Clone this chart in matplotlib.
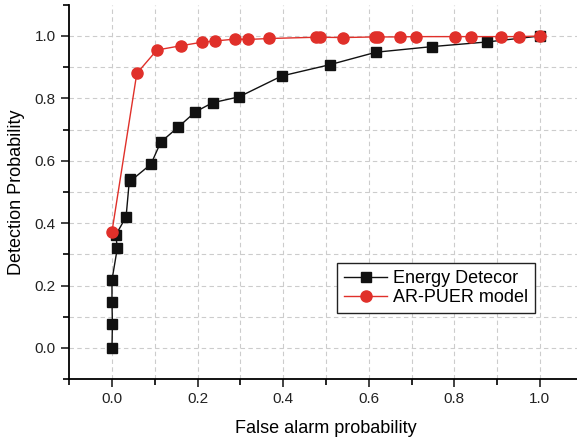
import numpy as np
import matplotlib
matplotlib.use("Agg")
import matplotlib.pyplot as plt
from matplotlib.ticker import MultipleLocator

plt.rcParams['font.family'] = ['Liberation Sans', 'DejaVu Sans']

# ROC 曲线数据 (虚警概率, 检测概率)
ed_pf = [0.0, 0.001, 0.0, 0.0, 0.0125, 0.009, 0.033, 0.041, 0.043, 0.091,
         0.114, 0.154, 0.195, 0.235, 0.297, 0.397, 0.509, 0.617, 0.748,
         0.877, 1.0]
ed_pd = [0.0, 0.077, 0.147, 0.218, 0.32, 0.362, 0.421, 0.543, 0.535, 0.589,
         0.66, 0.707, 0.757, 0.786, 0.805, 0.872, 0.908, 0.948, 0.966,
         0.981, 1.0]

ar_pf = [0.0, 0.058, 0.105, 0.162, 0.21, 0.241, 0.287, 0.319, 0.368, 0.477,
         0.485, 0.54, 0.615, 0.622, 0.674, 0.711, 0.801, 0.84, 0.909,
         0.951, 1.0]
ar_pd = [0.373, 0.88, 0.955, 0.969, 0.98, 0.984, 0.99, 0.989, 0.992, 0.996,
         0.996, 0.995, 0.997, 0.997, 0.997, 0.998, 0.998, 0.998, 0.998,
         0.998, 1.0]

fig = plt.figure(figsize=(5.77, 4.4), dpi=100)
ax = fig.add_axes([0.1199, 0.1382, 0.890, 0.8509])

ax.plot(ed_pf, ed_pd, color='#111111', lw=1.0, marker='s', ms=7,
        mfc='#111111', mec='#111111', label='Energy Detecor', zorder=3)
ax.plot(ar_pf, ar_pd, color='#e0302a', lw=1.0, marker='o', ms=8,
        mfc='#e0302a', mec='#e0302a', label='AR-PUER model', zorder=4)

ax.set_xlim(-0.1, 1.1)
ax.set_ylim(-0.1, 1.1)
ax.xaxis.set_minor_locator(MultipleLocator(0.1))
ax.yaxis.set_minor_locator(MultipleLocator(0.1))
ax.set_xticks(np.arange(0, 1.01, 0.2))
ax.set_yticks(np.arange(0, 1.01, 0.2))

# 网格线 (0.1 间隔, 虚线)
for v in np.arange(0, 1.01, 0.1):
    ax.axvline(v, color='#cccccc', lw=0.8, ls=(0, (4, 3)), zorder=0)
    ax.axhline(v, color='#cccccc', lw=0.8, ls=(0, (4, 3)), zorder=0)

for s in ['top', 'right']:
    ax.spines[s].set_visible(False)
for s in ['left', 'bottom']:
    ax.spines[s].set_linewidth(1.3)

ax.tick_params(which='major', direction='out', length=6, width=1.2,
               labelsize=11, colors='#222222')
ax.tick_params(which='minor', direction='out', length=4, width=1.2)

ax.set_xlabel('False alarm probability', fontsize=13, labelpad=10)
ax.set_ylabel('Detection Probability', fontsize=13, labelpad=7)

leg = ax.legend(loc='upper right', bbox_to_anchor=(0.907, 0.311),
                borderaxespad=0, fontsize=13, fancybox=False,
                framealpha=1, edgecolor='#222222', handlelength=2.4,
                handletextpad=0.3, borderpad=0.4, labelspacing=0.12)
leg.get_frame().set_linewidth(1.0)

fig.savefig('out.png', dpi=100)
